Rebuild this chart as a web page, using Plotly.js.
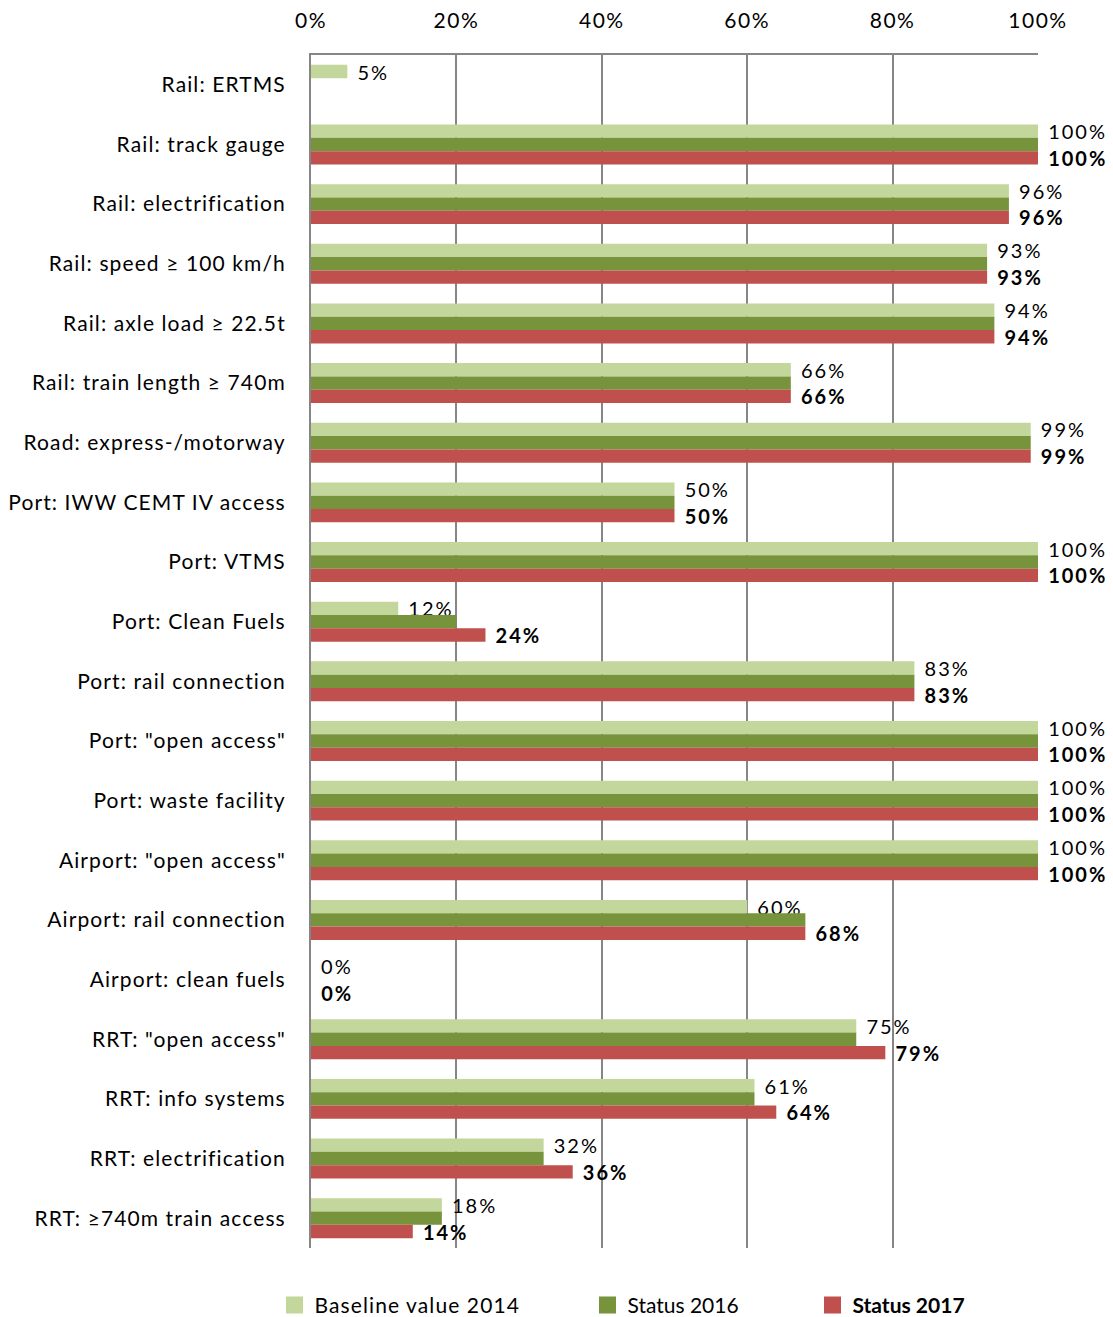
<!DOCTYPE html>
<html>
<head>
<meta charset="utf-8">
<script src="https://cdn.plot.ly/plotly-3.0.1.min.js"></script>
<style>
html,body{margin:0;padding:0;background:#fff;}
#chart{width:1113px;height:1317px;}
text.bartext{letter-spacing:2px;}
.ytick text{letter-spacing:1.1px;}
.xtick text{letter-spacing:1.5px;}
text.legendtext{letter-spacing:1.1px;}
.barlayer path{stroke-width:0 !important;}
</style>
</head>
<body>
<div id="chart"></div>
<script>
const categories = [
  'Rail: ERTMS',
  'Rail: track gauge',
  'Rail: electrification',
  'Rail: speed \u2265 100 km/h',
  'Rail: axle load \u2265 22.5t',
  'Rail: train length \u2265 740m',
  'Road: express-/motorway',
  'Port: IWW CEMT IV access',
  'Port: VTMS',
  'Port: Clean Fuels',
  'Port: rail connection',
  'Port: "open access"',
  'Port: waste facility',
  'Airport: "open access"',
  'Airport: rail connection',
  'Airport: clean fuels',
  'RRT: "open access"',
  'RRT: info systems',
  'RRT: electrification',
  'RRT: \u2265740m train access'
];
const baseline2014 = [0.05, 1.00, 0.96, 0.93, 0.94, 0.66, 0.99, 0.50, 1.00, 0.12, 0.83, 1.00, 1.00, 1.00, 0.60, 0.00, 0.75, 0.61, 0.32, 0.18];
const status2016   = [null, 1.00, 0.96, 0.93, 0.94, 0.66, 0.99, 0.50, 1.00, 0.20, 0.83, 1.00, 1.00, 1.00, 0.68, 0.00, 0.75, 0.61, 0.32, 0.18];
const status2017   = [null, 1.00, 0.96, 0.93, 0.94, 0.66, 0.99, 0.50, 1.00, 0.24, 0.83, 1.00, 1.00, 1.00, 0.68, 0.00, 0.79, 0.64, 0.36, 0.14];
const seriesNames = ['Baseline value 2014', 'Status 2016', '<b>Status 2017</b>'];
const seriesColors = ['#C3D69B', '#77933C', '#C0504D'];
const tickValues = [0, 0.2, 0.4, 0.6, 0.8, 1.0];

const FONT = 'Lato, "Open Sans", sans-serif';
const pad = '\u00a0';

const traces = [
  {
    type: 'bar', orientation: 'h', name: seriesNames[0], legend: 'legend',
    y: categories, x: baseline2014,
    marker: {color: seriesColors[0], line: {color: seriesColors[0], width: 5}},
    texttemplate: pad + '%{x:.0%}', textposition: 'outside', constraintext: 'none', cliponaxis: false,
    textfont: {family: FONT, size: 20, color: '#000'}
  },
  {
    type: 'bar', orientation: 'h', name: seriesNames[1], legend: 'legend2',
    y: categories, x: status2016,
    marker: {color: seriesColors[1], line: {color: seriesColors[1], width: 5}}
  },
  {
    type: 'bar', orientation: 'h', name: seriesNames[2], legend: 'legend3',
    y: categories, x: status2017,
    marker: {color: seriesColors[2], line: {color: seriesColors[2], width: 5}},
    texttemplate: pad + '<b>%{x:.0%}</b>', textposition: 'outside', constraintext: 'none', cliponaxis: false,
    textfont: {family: FONT, size: 20, color: '#000'}
  }
];

const legendBase = {orientation: 'h', yanchor: 'middle', xanchor: 'left', y: -0.048,
  font: {family: FONT, size: 21, color: '#000'}, bgcolor: 'rgba(0,0,0,0)'};

const layout = {
  width: 1113, height: 1317,
  margin: {l: 311, r: 75, t: 55, b: 69, autoexpand: false},
  paper_bgcolor: '#fff', plot_bgcolor: '#fff',
  barmode: 'group', bargap: 0.33, bargroupgap: 0,
  font: {family: FONT, size: 21, color: '#000'},
  xaxis: {
    side: 'top', range: [0, 1], tickvals: tickValues, tickformat: '.0%',
    showgrid: true, gridcolor: '#868686', gridwidth: 2,
    showline: true, linecolor: '#868686', linewidth: 2,
    zeroline: false, ticks: '', ticklen: 0, ticklabelstandoff: 17,
    tickfont: {family: FONT, size: 21, color: '#000'}
  },
  yaxis: {
    type: 'category', autorange: 'reversed',
    showline: true, linecolor: '#868686', linewidth: 2,
    showgrid: false, ticks: '', ticklabelstandoff: 19,
    tickfont: {family: FONT, size: 21, color: '#000'}
  },
  showlegend: true,
  legend: Object.assign({}, legendBase, {x: -0.0502}),
  legend2: Object.assign({}, legendBase, {x: 0.3803}),
  legend3: Object.assign({}, legendBase, {x: 0.6898})
};

Plotly.newPlot('chart', traces, layout, {displayModeBar: false, staticPlot: true});
</script>
</body>
</html>
